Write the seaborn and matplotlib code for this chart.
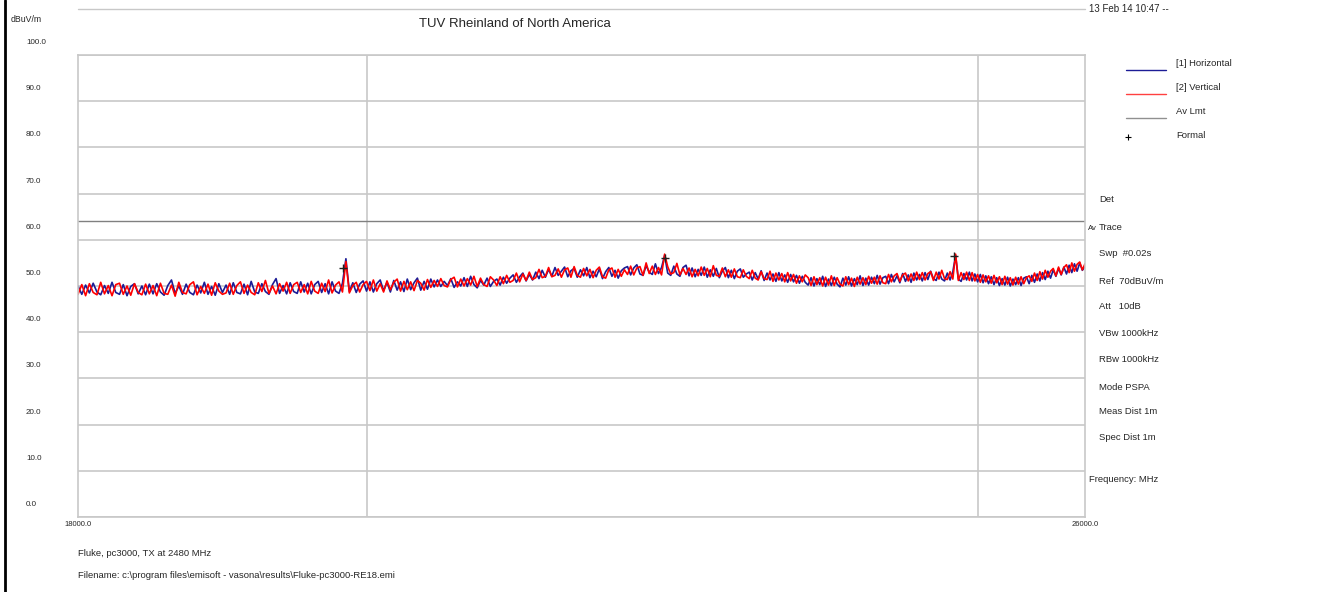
import numpy as np
import pandas as pd
import matplotlib
matplotlib.use("Agg")
import matplotlib.pyplot as plt
from matplotlib.lines import Line2D
from matplotlib.ticker import NullLocator, NullFormatter
import matplotlib.transforms as mtransforms
import seaborn as sns

sns.set_style("white")
plt.rcParams['font.family'] = ['Liberation Sans', 'DejaVu Sans']

# sweep: 18000 - 26000 MHz, 25 MHz steps
freq = np.arange(18000, 26001, 25)

horizontal = [
    50.0, 48.2, 50.2, 48.5, 50.6, 48.7, 48.1, 50.1, 48.4, 50.8, 48.6, 48.2, 50.3, 47.9, 49.9, 50.5, 48.3, 50.0, 48.1, 50.4,
    48.3, 50.5, 48.7, 48.0, 50.1, 51.3, 48.4, 50.0, 48.2, 50.4, 48.6, 48.1, 50.2, 48.5, 50.8, 48.2, 49.9, 48.0, 50.5, 48.6,
    50.2, 48.2, 50.7, 48.6, 48.3, 50.4, 48.1, 51.0, 48.7, 48.4, 50.5, 48.8, 48.2, 50.3, 51.6, 48.4, 50.1, 48.3, 50.7, 48.8,
    48.4, 50.9, 48.7, 50.6, 48.3, 50.3, 51.0, 48.6, 50.5, 48.3, 50.9, 48.9, 48.4, 50.6, 55.9, 48.8, 50.7, 48.6, 50.4, 51.1,
    48.9, 50.9, 48.7, 50.5, 51.3, 49.0, 50.8, 48.7, 51.2, 49.1, 50.9, 48.8, 51.5, 49.2, 50.7, 51.7, 49.1, 51.0, 49.3, 51.5,
    49.8, 51.3, 49.9, 51.0, 50.1, 51.6, 49.7, 50.9, 50.0, 51.8, 49.9, 52.1, 50.3, 49.6, 51.2, 50.2, 51.7, 49.9, 51.0, 51.5,
    50.2, 51.9, 50.6, 51.7, 52.4, 50.8, 52.0, 52.8, 51.1, 52.5, 51.3, 53.0, 51.6, 53.4, 51.9, 53.6, 52.1, 54.0, 52.3, 53.2,
    54.1, 52.0, 53.3, 53.8, 51.9, 53.5, 52.2, 54.0, 51.8, 53.2, 52.0, 53.7, 51.6, 53.1, 54.0, 52.1, 53.4, 51.7, 53.3, 53.9,
    54.2, 52.4, 53.9, 54.6, 52.6, 52.3, 54.4, 53.0, 52.5, 54.8, 52.7, 54.0, 56.6, 52.8, 52.3, 54.3, 52.6, 52.1, 54.0, 54.5,
    52.2, 53.9, 52.0, 53.6, 52.3, 54.1, 51.9, 53.5, 52.1, 53.8, 51.8, 53.2, 54.0, 51.8, 53.4, 51.6, 53.2, 53.7, 51.9, 52.6,
    53.0, 51.3, 52.9, 51.5, 53.3, 51.2, 52.8, 51.3, 52.6, 51.0, 52.9, 51.1, 52.4, 50.8, 52.5, 50.9, 52.3, 50.6, 52.1, 50.8,
    50.2, 51.8, 50.0, 51.6, 50.3, 52.1, 49.9, 51.5, 50.1, 51.9, 50.4, 49.8, 51.7, 50.2, 52.0, 50.0, 51.6, 50.3, 52.2, 50.1,
    51.7, 50.2, 51.9, 50.5, 52.3, 50.4, 51.8, 52.1, 50.5, 52.5, 50.9, 52.2, 50.7, 52.7, 51.0, 52.4, 50.8, 52.8, 51.3, 52.5,
    51.1, 52.9, 51.4, 53.2, 51.6, 51.2, 53.0, 51.5, 51.1, 52.8, 51.3, 53.1, 56.6, 51.5, 51.0, 52.7, 51.3, 53.0, 51.1, 52.6,
    50.9, 52.5, 50.7, 52.2, 50.5, 52.0, 50.3, 51.8, 50.1, 51.6, 50.2, 51.9, 50.0, 51.5, 50.3, 51.8, 50.1, 51.7, 52.0, 50.5,
    52.3, 50.8, 52.6, 51.1, 52.9, 51.4, 53.2, 51.7, 53.5, 52.1, 53.8, 52.4, 54.1, 52.6, 54.5, 52.9, 54.8, 53.2, 55.0, 53.4,
    54.2,
]

vertical = [
    48.2, 50.3, 47.9, 50.5, 48.6, 48.1, 50.8, 48.3, 50.1, 47.9, 50.3, 50.6, 48.2, 50.0, 48.0, 50.5, 48.6, 48.1, 50.4, 48.3,
    50.1, 47.9, 50.6, 48.4, 48.2, 50.2, 47.8, 50.8, 48.6, 48.3, 50.3, 50.9, 48.1, 49.9, 48.4, 50.4, 48.0, 50.7, 48.9, 48.2,
    48.5, 50.6, 48.2, 50.1, 50.9, 48.4, 50.2, 48.6, 48.1, 50.7, 48.8, 51.2, 48.4, 50.0, 48.3, 50.5, 48.9, 50.8, 48.4, 50.3,
    50.8, 48.6, 50.3, 48.3, 51.0, 48.9, 48.4, 50.6, 48.8, 51.3, 48.5, 50.2, 50.9, 48.7, 55.3, 48.5, 50.1, 50.8, 48.7, 50.3,
    51.0, 49.0, 51.3, 48.9, 50.5, 48.7, 51.1, 49.2, 50.8, 51.5, 48.9, 51.0, 49.2, 50.9, 49.0, 51.2, 50.6, 49.1, 51.4, 49.7,
    51.2, 49.9, 51.6, 50.1, 49.8, 51.4, 51.9, 49.8, 51.5, 50.0, 51.6, 50.2, 52.1, 49.9, 51.7, 50.3, 49.9, 52.0, 51.3, 50.1,
    52.0, 50.5, 52.3, 50.8, 51.2, 52.8, 50.9, 52.6, 51.2, 53.0, 51.4, 51.8, 53.6, 51.8, 52.1, 54.0, 52.0, 52.3, 53.7, 51.9,
    53.5, 53.9, 51.9, 54.2, 52.3, 51.9, 53.8, 52.2, 53.6, 51.8, 53.4, 54.1, 52.0, 51.7, 53.5, 53.9, 51.9, 53.6, 52.1, 53.5,
    52.5, 54.3, 52.4, 53.9, 54.2, 52.3, 55.0, 52.7, 54.3, 52.5, 54.0, 52.4, 56.9, 54.2, 52.6, 52.9, 54.9, 52.4, 53.8, 52.5,
    53.9, 52.0, 53.6, 52.2, 54.1, 52.3, 53.8, 52.0, 54.4, 52.3, 52.1, 53.9, 52.0, 53.5, 51.9, 53.7, 52.0, 51.8, 53.5, 52.1,
    51.6, 53.4, 51.7, 51.3, 53.1, 51.6, 51.4, 53.2, 51.0, 52.8, 51.3, 52.7, 50.9, 52.9, 51.1, 52.5, 50.6, 52.2, 50.9, 52.4,
    51.8, 50.1, 52.0, 50.3, 51.8, 50.0, 51.9, 50.2, 52.2, 50.1, 51.8, 50.4, 50.0, 52.0, 50.3, 51.7, 49.9, 51.9, 50.4, 51.8,
    50.3, 52.1, 50.6, 51.9, 50.4, 52.2, 50.7, 50.5, 52.5, 50.9, 52.2, 52.7, 51.0, 52.4, 52.8, 51.1, 52.6, 51.2, 53.0, 51.4,
    52.9, 51.3, 52.7, 53.1, 51.2, 53.0, 51.5, 53.4, 51.6, 51.4, 53.1, 51.5, 56.9, 51.2, 52.9, 51.4, 53.0, 51.2, 52.9, 51.1,
    52.5, 50.8, 52.4, 50.9, 52.2, 50.6, 52.3, 50.7, 52.0, 50.3, 52.1, 50.4, 51.8, 50.2, 51.9, 50.4, 52.0, 50.5, 51.8, 52.2,
    51.0, 52.8, 51.2, 53.1, 51.5, 53.4, 51.9, 53.2, 53.8, 52.2, 54.1, 52.5, 54.0, 54.6, 52.9, 55.0, 53.2, 54.7, 55.2, 53.5,
    54.8,
]

av_limit = 64.0
formal_freq = [19830, 22300, 24790]
formal_level = [53.9, 56.1, 56.5]

y_ticks = [0, 10, 20, 30, 40, 50, 60, 70, 80, 90, 100]
x_labels = ["18000.0", "26000.0"]

side_lines = [
    ("Det", 200), ("Trace", 227), ("Swp  #0.02s", 254), ("Ref  70dBuV/m", 281),
    ("Att   10dB", 307), ("VBw 1000kHz", 334), ("RBw 1000kHz", 360),
    ("Mode PSPA", 387), ("Meas Dist 1m", 411), ("Spec Dist 1m", 437),
]

W, H = 1323, 592
fig = plt.figure(figsize=(W / 100, H / 100), dpi=100)
ax = fig.add_axes([78 / W, 1 - 517 / H, (1085 - 78) / W, (517 - 55) / H])

df = pd.DataFrame({
    "freq": np.concatenate([freq, freq]),
    "level": horizontal + vertical,
    "trace": ["[1] Horizontal"] * len(freq) + ["[2] Vertical"] * len(freq),
})

grid_c = "#c8c8c8"
for v in y_ticks:
    ax.axhline(v, color=grid_c, lw=1.2, zorder=0)
for f in [20000, 25000]:
    ax.axvline(f, color=grid_c, lw=1.2, zorder=0)

ax.axhline(av_limit, color="#808080", lw=1.0, zorder=1)

sns.lineplot(data=df, x="freq", y="level", hue="trace",
             palette={"[1] Horizontal": "#1c1c96", "[2] Vertical": "#ff0000"},
             lw=1.2, legend=False, ax=ax, zorder=2)
ax.plot(formal_freq, formal_level, ls="none", marker="+", color="#202020",
        ms=6, mew=1.0, zorder=3)

ax.set_xscale("log")
ax.set_xlim(18000, 26000)
ax.set_ylim(0, 100)
ax.xaxis.set_minor_locator(NullLocator())
ax.xaxis.set_minor_formatter(NullFormatter())
ax.set_xticks([18000, 26000], x_labels, fontsize=5.5)
ax.tick_params(axis="x", length=0, pad=3)
ax.set_yticks([])
ax.set_xlabel("")
ax.set_ylabel("")
for s in ax.spines.values():
    s.set_color(grid_c)
    s.set_linewidth(1.2)

# y labels sit a bit above their grid line
trans = mtransforms.blended_transform_factory(fig.transFigure, ax.transData)
for v in y_ticks:
    ax.text(26 / W, v + 2.7, "%.1f" % v, transform=trans, fontsize=5.8,
            ha="left", va="center", clip_on=False)

def ftext(x, y, s, **kw):
    kw.setdefault("fontsize", 6.8)
    kw.setdefault("va", "center")
    fig.text(x / W, 1 - y / H, s, **kw)

ftext(11, 19, "dBuV/m", fontsize=6.3)
ftext(515, 24, "TUV Rheinland of North America", fontsize=9.5, ha="center")
ftext(1089, 9, "13 Feb 14 10:47 --", fontsize=7)
ftext(78, 554, "Fluke, pc3000, TX at 2480 MHz", fontsize=6.8)
ftext(78, 576, "Filename: c:\\program files\\emisoft - vasona\\results\\Fluke-pc3000-RE18.emi", fontsize=6.8)

# legend
leg = [("[1] Horizontal", 63, "#1c1c96"), ("[2] Vertical", 87, "#ff4040"),
       ("Av Lmt", 111, "#909090")]
for lab, y, c in leg:
    fig.add_artist(Line2D([1126 / W, 1166 / W], [1 - (y + 7) / H] * 2, color=c, lw=1.0))
    ftext(1176, y, lab)
fig.add_artist(Line2D([1128 / W], [1 - 137 / H], marker="+", color="black", ms=4, mew=0.8))
ftext(1176, 135, "Formal")

for lab, y in side_lines:
    ftext(1099, y, lab)
ftext(1088, 228, "Av", fontsize=5.5)
ftext(1089, 479, "Frequency: MHz")

# frame lines
fig.add_artist(Line2D([5 / W, 5 / W], [0, 1], color="black", lw=2.0))
fig.add_artist(Line2D([78 / W, 1085 / W], [1 - 9 / H] * 2, color=grid_c, lw=1.0))

fig.savefig("out.png", dpi=100)
